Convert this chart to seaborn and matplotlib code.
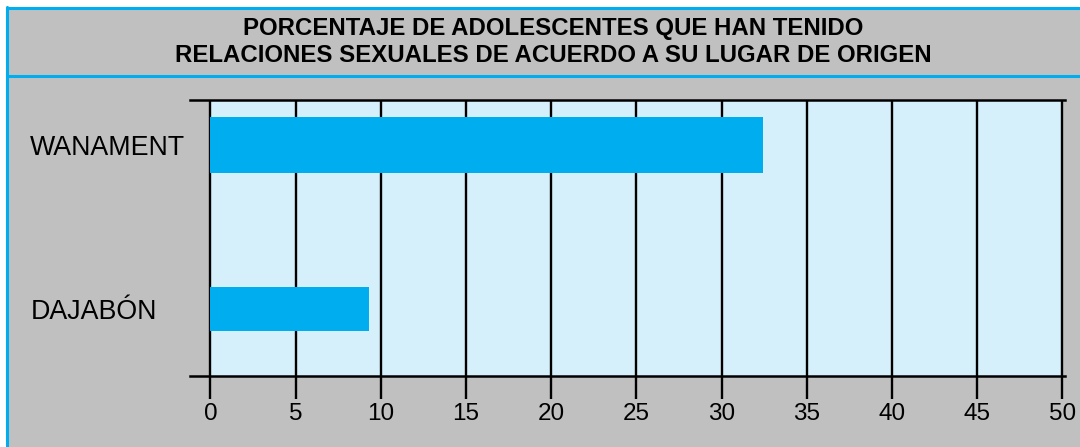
import matplotlib
matplotlib.use("Agg")
import matplotlib.pyplot as plt
import seaborn as sns
from matplotlib.lines import Line2D
from matplotlib.patches import Rectangle

# ---- data ----
categories = ["WANAMENT", "DAJABÓN"]
values = [32.4, 9.3]
x_ticks = [0, 5, 10, 15, 20, 25, 30, 35, 40, 45, 50]
title_lines = ["PORCENTAJE DE ADOLESCENTES QUE HAN TENIDO",
               "RELACIONES SEXUALES DE ACUERDO A SU LUGAR DE ORIGEN"]

# ---- style ----
GRAY = "#c0c0c0"
BLUE = "#00aeef"
LIGHT = "#d5f0fa"
bar_widths = [0.34, 0.27]

sns.set_theme(style="white")
plt.rcParams["font.family"] = ["Liberation Sans", "DejaVu Sans"]

W, H = 1080, 447
fig = plt.figure(figsize=(W / 100, H / 100), dpi=100, facecolor="white")

# background frame (white margin top/left, gray panel, blue borders)
fig.add_artist(Rectangle((7 / W, 0), 1, (H - 7) / H, transform=fig.transFigure,
                         facecolor=GRAY, edgecolor="none", zorder=-10))
fig.add_artist(Line2D([7 / W, 1], [(H - 7.8) / H] * 2, transform=fig.transFigure,
                      color=BLUE, lw=2.2))
fig.add_artist(Line2D([7.3 / W] * 2, [0, (H - 7) / H], transform=fig.transFigure,
                      color=BLUE, lw=2.2))
fig.add_artist(Line2D([7 / W, 1], [(H - 76) / H] * 2, transform=fig.transFigure,
                      color=BLUE, lw=2.2))

for i, line in enumerate(title_lines):
    fig.text(553 / W, (H - (28 + 28 * i)) / H, line, ha="center", va="center",
             fontsize=17.3, fontweight="bold", color="black")

ax = fig.add_axes([190 / W, (H - 376) / H, (1065 - 190) / W, (376 - 100) / H])
ax.set_facecolor(GRAY)

for cat, val, w in zip(categories, values, bar_widths):
    sns.barplot(x=[val], y=[cat], order=categories, orient="h", width=w,
                color=BLUE, saturation=1, ax=ax, zorder=3, edgecolor="none")

ax.axvspan(0, 50, color=LIGHT, zorder=0, lw=0)
ax.set_xlim(-1.2, 50.15)
ax.set_ylim(1.409, -0.274)
ax.set_xticks(x_ticks)
ax.set_xticklabels([str(t) for t in x_ticks])
ax.xaxis.grid(True, color="black", linewidth=1.7, zorder=1)
ax.yaxis.grid(False)
ax.set_axisbelow(True)

for s in ["left", "right"]:
    ax.spines[s].set_visible(False)
for s in ["top", "bottom"]:
    ax.spines[s].set_visible(True)
    ax.spines[s].set_color("black")
    ax.spines[s].set_linewidth(1.8)

ax.tick_params(axis="x", direction="out", length=16.5, width=1.7, color="black",
               labelsize=17.5, pad=3, bottom=True, labelcolor="black")
ax.tick_params(axis="y", length=0, labelsize=19.3, pad=115, labelcolor="black")
for lab in ax.get_yticklabels():
    lab.set_horizontalalignment("left")
ax.set_xlabel("")
ax.set_ylabel("")

fig.savefig("out.png", dpi=100, facecolor="white")
